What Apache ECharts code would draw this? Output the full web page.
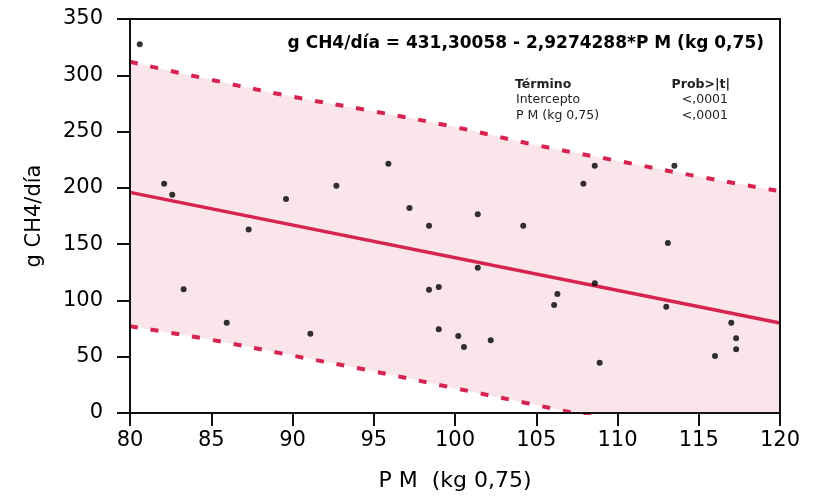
<!DOCTYPE html>
<html>
<head>
<meta charset="utf-8">
<script src="https://cdn.jsdelivr.net/npm/echarts@6/dist/echarts.min.js"></script>
<style>
html,body{margin:0;padding:0;background:#fff;}
#chart{width:821px;height:498px;}
</style>
</head>
<body>
<div id="chart"></div>
<script>
// ---- data ----
const pmValues = [80.6, 82.1, 82.6, 83.3, 85.95, 87.3, 89.6, 91.1, 92.7, 95.9, 97.2, 98.4, 98.4, 99.0, 99.0, 100.2, 100.55, 101.4, 101.4, 102.2, 104.2, 106.1, 106.3, 107.9, 108.6, 108.6, 108.9, 113.0, 113.1, 113.5, 116.0, 117.0, 117.3, 117.3];
const ch4Values = [327.5, 203.7, 193.9, 109.9, 80.2, 163.0, 190.1, 70.5, 201.9, 221.5, 182.1, 166.4, 109.5, 111.9, 74.4, 68.4, 58.6, 176.5, 129.1, 64.6, 166.4, 95.9, 105.7, 203.7, 219.7, 115.2, 44.7, 94.4, 151.0, 219.7, 50.6, 80.2, 66.4, 56.6];

const fitX = [80, 120];
const fitY = [196, 80.0];

const bandX = [80, 85, 90, 95, 100, 105, 110, 115, 120];
const upperBand = [312, 296, 281, 268, 254, 238, 224, 210, 197];
const lowerBand = [77, 65, 51, 37, 22, 7, -8, -23, -38];

const xTicks = {min: 80, max: 120, step: 5};
const yTicks = {min: 0, max: 350, step: 50};

const equationText = 'g CH4/día = 431,30058 - 2,9274288*P M (kg 0,75)';
const tableHeader = ['Término', 'Prob>|t|'];
const tableTerms = ['Intercepto', 'P M (kg 0,75)'];
const tableProbs = ['<,0001', '<,0001'];

const xName = 'P M  (kg 0,75)';
const yName = 'g CH4/día';
// --------------------------------------

const pair = (xs, ys) => xs.map((x, i) => [x, ys[i]]);
const FONT = 'DejaVu Sans';
const RED = '#d7234f';

const titles = [
  {text: equationText, right: 52, top: 30, textStyle: {fontFamily: FONT, fontSize: 17, fontWeight: 'bold', color: '#000'}},
  {text: tableHeader[0], left: 510, top: 73, textStyle: {fontFamily: FONT, fontSize: 12.5, fontWeight: 'bold', color: '#222'}},
  {text: tableHeader[1], right: 86, top: 73, textStyle: {fontFamily: FONT, fontSize: 12.5, fontWeight: 'bold', color: '#222'}}
];
tableTerms.forEach((t, i) => {
  titles.push({text: t, left: 511, top: 88 + i * 16, textStyle: {fontFamily: FONT, fontSize: 12.5, fontWeight: 'normal', color: '#222'}});
  titles.push({text: tableProbs[i], right: 88, top: 88 + i * 16, textStyle: {fontFamily: FONT, fontSize: 12.5, fontWeight: 'normal', color: '#222'}});
});

const chart = echarts.init(document.getElementById('chart'), null, {renderer: 'canvas'});
chart.setOption({
  animation: false,
  backgroundColor: '#fff',
  title: titles,
  grid: {left: 130, right: 41, top: 19, bottom: 85, show: true, borderColor: '#111', borderWidth: 2, backgroundColor: 'transparent', z: 10},
  xAxis: {
    type: 'value', min: xTicks.min, max: xTicks.max, interval: xTicks.step, z: 10,
    name: xName, nameLocation: 'middle', nameGap: 57,
    nameTextStyle: {fontFamily: FONT, fontSize: 22, color: '#000'},
    axisLine: {show: true, onZero: false, lineStyle: {color: '#111', width: 2}},
    axisTick: {show: true, length: 13, lineStyle: {color: '#111', width: 2}},
    axisLabel: {margin: 17, fontFamily: FONT, fontSize: 21, color: '#000'},
    splitLine: {show: false}
  },
  yAxis: {
    type: 'value', min: yTicks.min, max: yTicks.max, interval: yTicks.step, z: 10,
    name: yName, nameLocation: 'middle', nameGap: 85, nameRotate: 90,
    nameTextStyle: {fontFamily: FONT, fontSize: 21, color: '#000'},
    axisLine: {show: true, onZero: false, lineStyle: {color: '#111', width: 2}},
    axisTick: {show: true, length: 13, lineStyle: {color: '#111', width: 2}},
    axisLabel: {margin: 27, fontFamily: FONT, fontSize: 21, color: '#000'},
    splitLine: {show: false}
  },
  series: [
    {
      type: 'line', data: pair(bandX, upperBand), smooth: true, symbol: 'none', z: 1,
      lineStyle: {color: RED, width: 4, type: [8, 13]},
      areaStyle: {color: '#f9e5ea', opacity: 1, origin: 'start'}
    },
    {
      type: 'line', data: pair(bandX, lowerBand), smooth: true, symbol: 'none', z: 2,
      lineStyle: {color: RED, width: 4, type: [8, 13]},
      areaStyle: {color: '#ffffff', opacity: 1, origin: 'start'}
    },
    {
      type: 'line', data: pair(fitX, fitY), symbol: 'none', z: 3,
      lineStyle: {color: RED, width: 3.5}
    },
    {
      type: 'scatter', data: pair(pmValues, ch4Values), symbol: 'circle', symbolSize: 6, z: 4,
      itemStyle: {color: '#000'}
    }
  ]
});
</script>
</body>
</html>
